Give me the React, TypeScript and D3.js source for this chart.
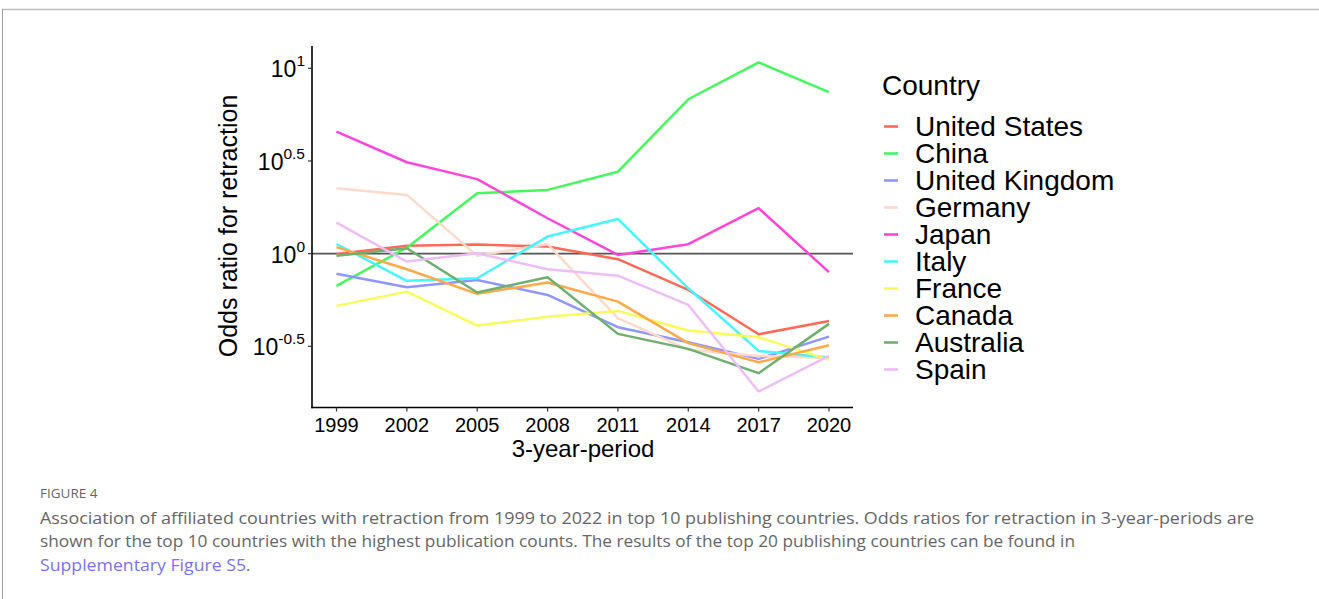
import React from "react";
import * as d3 from "d3";

const periods = [1999, 2002, 2005, 2008, 2011, 2014, 2017, 2020];
const countries = ["United States", "China", "United Kingdom", "Germany", "Japan", "Italy", "France", "Canada", "Australia", "Spain"];
const colors = ["#FF6A57", "#45F85E", "#8F96FF", "#FFD9CC", "#FF45DA", "#45F6FF", "#FAFA5C", "#FFA948", "#6FAF6F", "#EDBDF8"];
// log10 odds ratios
const usLog = [-0.002, 0.043, 0.049, 0.038, -0.030, -0.196, -0.435, -0.363];
const chinaLog = [-0.174, 0.032, 0.326, 0.344, 0.442, 0.833, 1.032, 0.871];
const ukLog = [-0.109, -0.181, -0.142, -0.223, -0.397, -0.478, -0.568, -0.448];
const germanyLog = [0.353, 0.317, -0.012, 0.052, -0.348, -0.519, -0.552, -0.563];
const japanLog = [0.658, 0.493, 0.402, 0.191, -0.007, 0.051, 0.245, -0.100];
const italyLog = [0.052, -0.147, -0.133, 0.092, 0.187, -0.187, -0.525, -0.561];
const franceLog = [-0.282, -0.205, -0.388, -0.340, -0.309, -0.415, -0.451, -0.573];
const canadaLog = [0.035, -0.084, -0.217, -0.156, -0.259, -0.483, -0.586, -0.494];
const australiaLog = [-0.012, 0.029, -0.210, -0.127, -0.433, -0.514, -0.645, -0.379];
const spainLog = [0.167, -0.043, 0.002, -0.084, -0.119, -0.277, -0.744, -0.552];
const seriesLogs = [usLog, chinaLog, ukLog, germanyLog, japanLog, italyLog, franceLog, canadaLog, australiaLog, spainLog];
const yTickExps = ["1", "0.5", "0", "-0.5"];

const captionTitle = "FIGURE 4";
const captionLines = [
  "Association of affiliated countries with retraction from 1999 to 2022 in top 10 publishing countries. Odds ratios for retraction in 3-year-periods are",
  "shown for the top 10 countries with the highest publication counts. The results of the top 20 publishing countries can be found in",
];
const captionLink = "Supplementary Figure S5";

export default function App() {
  const x = d3.scaleLinear().domain([1999, 2020]).range([336.5, 829]);
  const y = d3.scaleLog().domain([Math.pow(10, -0.833), Math.pow(10, 1.115)]).range([408, 47]);
  const line = d3
    .line<[number, number]>()
    .x((d) => x(d[0]))
    .y((d) => y(Math.pow(10, d[1])));
  const font = "'Liberation Sans', Arial, sans-serif";
  const capFont = "'Open Sans', 'Noto Sans', sans-serif";
  const axL = 312, axR = 853, axB = 407.5, axT = 46;
  return (
    <svg width={1319} height={599} style={{ position: "absolute", left: 0, top: 0, background: "#fff" }} fontFamily={font}>
      <line x1={2} y1={9.5} x2={1319} y2={9.5} stroke="#bdbdbd" strokeWidth={1.5} />
      <line x1={2.5} y1={9} x2={2.5} y2={599} stroke="#9e9e9e" strokeWidth={1} />
      {/* reference line at 1 */}
      <line x1={axL} x2={axR} y1={y(1)} y2={y(1)} stroke="#555" strokeWidth={1.6} />
      {seriesLogs.map((vals, i) => (
        <path
          key={countries[i]}
          d={line(periods.map((p, j) => [p, vals[j]] as [number, number])) || ""}
          fill="none"
          stroke={colors[i]}
          strokeWidth={2.5}
          strokeLinejoin="round"
        />
      ))}
      {/* axes */}
      <line x1={axL} x2={axL} y1={axT} y2={axB + 0.8} stroke="#000" strokeWidth={1.6} />
      <line x1={axL - 0.8} x2={axR} y1={axB} y2={axB} stroke="#000" strokeWidth={1.6} />
      {periods.map((p) => (
        <g key={p}>
          <line x1={x(p)} x2={x(p)} y1={axB} y2={axB + 4} stroke="#333" strokeWidth={1.2} />
          <text x={x(p)} y={axB + 24} fontSize={20} textAnchor="middle" fill="#000">
            {p}
          </text>
        </g>
      ))}
      {yTickExps.map((e) => {
        const yy = y(Math.pow(10, +e));
        return (
          <g key={e}>
            <line x1={axL - 4} x2={axL} y1={yy} y2={yy} stroke="#333" strokeWidth={1.2} />
            <text x={axL - 7} y={yy + 9} fontSize={23} textAnchor="end" fill="#000">
              10
              <tspan fontSize={15.5} dy={-11}>{e}</tspan>
            </text>
          </g>
        );
      })}
      <text x={583} y={457} fontSize={24} textAnchor="middle" fill="#000">
        3-year-period
      </text>
      <text transform={`translate(237,226) rotate(-90)`} fontSize={25} textAnchor="middle" fill="#000">
        Odds ratio for retraction
      </text>
      {/* legend */}
      <text x={882} y={95} fontSize={28} fill="#000">
        Country
      </text>
      {countries.map((c, i) => {
        const cy = 126.5 + i * 27;
        return (
          <g key={c}>
            <line x1={884} x2={898} y1={cy} y2={cy} stroke={colors[i]} strokeWidth={2.6} />
            <text x={915} y={cy + 9.5} fontSize={28} fill="#000">
              {c}
            </text>
          </g>
        );
      })}
      {/* caption */}
      <text x={40} y={498} fontSize={13.5} fill="#666" fontFamily={capFont}>
        {captionTitle}
      </text>
      <text x={40} y={524} fontSize={16} fill="#666" fontFamily={capFont} textLength={1214} lengthAdjust="spacingAndGlyphs">
        {captionLines[0]}
      </text>
      <text x={40} y={547} fontSize={16} fill="#666" fontFamily={capFont} textLength={1035} lengthAdjust="spacingAndGlyphs">
        {captionLines[1]}
      </text>
      <text x={40} y={571} fontSize={16} fontFamily={capFont} fill="#7b72f0">
        <tspan textLength={206} lengthAdjust="spacingAndGlyphs">{captionLink}</tspan>
        <tspan fill="#666">.</tspan>
      </text>
    </svg>
  );
}
